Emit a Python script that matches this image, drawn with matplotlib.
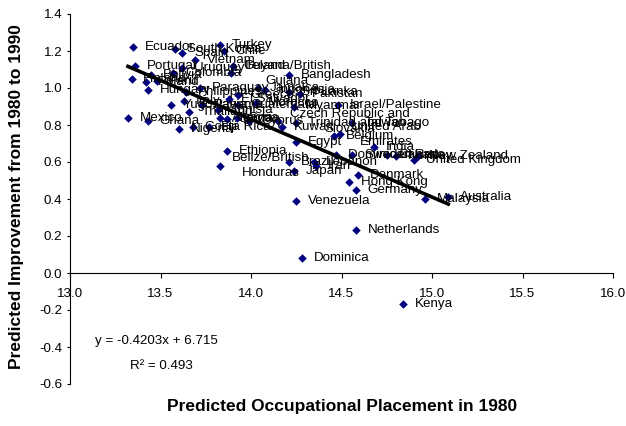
import numpy as np
import matplotlib
matplotlib.use("Agg")
import matplotlib.pyplot as plt

plt.rcParams['font.family'] = ['Liberation Sans', 'DejaVu Sans']

# country labels, placement score in 1980, predicted improvement 1980-1990
countries = [
    "Ecuador", "South Korea", "Spain", "Turkey", "Chile", "Vietnam",
    "Portugal", "Uruguay", "Ireland", "Colombia", "Bolivia", "Finland",
    "Poland", "Peru", "Bangladesh", "Hungary", "Philippines", "Paraguay",
    "Jamaica", "Indonesia", "Sri Lanka", "Pakistan", "Greece", "Yugoslavia",
    "Italy", "Panama", "El Salvador", "Guatemala", "Morocco", "Myanmar",
    "Israel/Palestine", "Thailand", "Tunisia", "Algeria", "Jordan", "Syria",
    "Cyprus", "Czech Republic and\nSlovakia", "Kuwait", "Trinidad and Tobago",
    "Taiwan", "Mexico", "Ghana", "Nigeria", "Costa Rica", "Fiji",
    "Belgium", "Egypt", "India", "Sweden", "Canada", "Norway",
    "United Kingdom", "Dominican Rep.", "Ethiopia", "Belize/British\nHonduras",
    "Brazil", "Lebanon", "Iran", "Japan", "Denmark", "Hong Kong",
    "Germany", "Venezuela", "Malaysia", "Australia", "Netherlands", "Dominica",
    "Kenya", "Guyana/British\nGuiana", "United Arab\nEmirates", "New Zealand",
]
placement_1980 = [
    13.35, 13.58, 13.62, 13.83, 13.85, 13.69,
    13.36, 13.62, 13.90, 13.57, 13.45, 13.34,
    13.42, 13.48, 14.21, 13.43, 13.64, 13.72,
    14.04, 14.08, 14.21, 14.27, 13.93, 13.56,
    13.63, 13.73, 13.88, 13.93, 14.03, 14.24,
    14.48, 13.66, 13.82, 13.83, 13.87, 13.92,
    13.99, 14.15, 14.17, 14.25,
    14.56, 13.32, 13.43, 13.60, 13.68, 13.77,
    14.46, 14.25, 14.68, 14.56, 14.75, 14.80,
    14.90, 14.47, 13.87, 13.83,
    14.21, 14.35, 14.36, 14.24, 14.59, 14.54,
    14.58, 14.25, 14.96, 15.09, 14.58, 14.28,
    14.84, 13.89, 14.49, 14.92,
]
improvement = [
    1.22, 1.21, 1.19, 1.23, 1.20, 1.15,
    1.12, 1.11, 1.12, 1.08, 1.07, 1.05,
    1.03, 1.04, 1.07, 0.99, 0.98, 1.00,
    1.00, 0.99, 0.98, 0.97, 0.96, 0.91,
    0.93, 0.91, 0.94, 0.91, 0.92, 0.90,
    0.91, 0.87, 0.88, 0.84, 0.83, 0.84,
    0.82, 0.82, 0.79, 0.81,
    0.81, 0.84, 0.82, 0.78, 0.79, 0.79,
    0.74, 0.71, 0.68, 0.64, 0.64, 0.63,
    0.61, 0.64, 0.66, 0.58,
    0.60, 0.60, 0.58, 0.55, 0.53, 0.49,
    0.45, 0.39, 0.40, 0.41, 0.23, 0.08,
    -0.17, 1.08, 0.75, 0.63,
]

# linear trend reported on the chart
slope = -0.4203
intercept = 6.715
r_squared = 0.493

x_ticks = [13.0, 13.5, 14.0, 14.5, 15.0, 15.5, 16.0]
y_ticks = [-0.6, -0.4, -0.2, 0.0, 0.2, 0.4, 0.6, 0.8, 1.0, 1.2, 1.4]

fig = plt.figure(figsize=(6.26, 4.26), dpi=100)
ax = fig.add_axes([70 / 626, 1 - 384 / 426, 543 / 626, 370 / 426])

ax.scatter(placement_1980, improvement, marker='D', s=19, color='#000080',
           linewidths=0, zorder=3)

for name, x, y in zip(countries, placement_1980, improvement):
    ax.annotate(name, (x, y), xytext=(8.5, 0), textcoords='offset points',
                ha='left', va='center', multialignment='center',
                fontsize=9.6, color='black', zorder=5, linespacing=1.3)

xs = np.array([min(placement_1980), max(placement_1980)])
ax.plot(xs, slope * xs + intercept, color='black', linewidth=2.6, zorder=4)

ax.text(13.138, -0.368, f"y = {slope}x + {intercept}", fontsize=9.6,
        ha='left', va='center')
ax.text(13.331, -0.503, f"R\u00b2 = {r_squared}", fontsize=9.6,
        ha='left', va='center')

ax.set_xlim(13.0, 16.0)
ax.set_ylim(-0.6, 1.4)
ax.set_xticks(x_ticks)
ax.set_yticks(y_ticks)
ax.set_xticklabels([f"{t:.1f}" for t in x_ticks])
ax.set_yticklabels([f"{t:.1f}" for t in y_ticks])

ax.spines['top'].set_visible(False)
ax.spines['right'].set_visible(False)
ax.spines['bottom'].set_position(('data', 0))
ax.spines['left'].set_linewidth(0.8)
ax.spines['bottom'].set_linewidth(0.8)
ax.tick_params(axis='x', direction='out', length=3.6, width=0.8, pad=7,
               labelsize=9.6)
ax.tick_params(axis='y', direction='out', length=2.2, width=0.8, pad=3.5,
               labelsize=9.6)

fig.text(17 / 626, 1 - 197 / 426, "Predicted Improvement from 1980 to 1990",
         rotation=90, ha='center', va='center', fontsize=12.5, fontweight='bold')
fig.text(342 / 626, 1 - 406 / 426, "Predicted Occupational Placement in 1980",
         ha='center', va='center', fontsize=12.5, fontweight='bold')

fig.savefig('out.png', dpi=100)
